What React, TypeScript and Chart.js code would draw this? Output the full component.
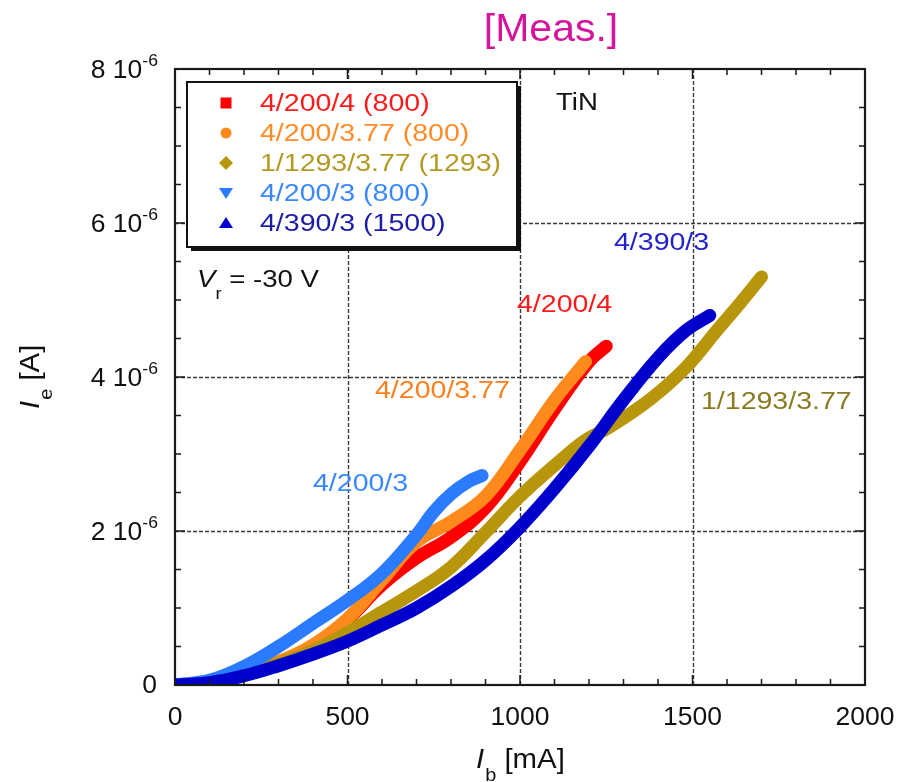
import { useEffect, useRef } from "react";
import { Chart, registerables } from "chart.js";

Chart.register(...registerables);

// ---------- data (Ib in mA, Ie in A) ----------
const seriesLabels = [
  "4/200/4 (800)",
  "4/200/3.77 (800)",
  "1/1293/3.77 (1293)",
  "4/200/3 (800)",
  "4/390/3 (1500)",
];
const curveNames = ["4/200/4", "4/200/3.77", "1/1293/3.77", "4/200/3", "4/390/3"];

const redX = [0, 100, 200, 300, 400, 500, 600, 700, 800, 900, 1000, 1100, 1200, 1250];
const redY = [0, 0.04e-6, 0.15e-6, 0.3e-6, 0.5e-6, 0.85e-6, 1.3e-6, 1.65e-6, 1.92e-6, 2.3e-6, 2.9e-6, 3.58e-6, 4.2e-6, 4.4e-6];

const orangeX = [0, 100, 200, 300, 400, 500, 600, 700, 800, 900, 1000, 1100, 1190];
const orangeY = [0, 0.04e-6, 0.15e-6, 0.3e-6, 0.52e-6, 0.86e-6, 1.36e-6, 1.86e-6, 2.12e-6, 2.45e-6, 3.05e-6, 3.7e-6, 4.2e-6];

const oliveX = [0, 100, 200, 300, 400, 500, 600, 700, 800, 900, 1000, 1100, 1190, 1260, 1380, 1480, 1570, 1640, 1700];
const oliveY = [0, 0.04e-6, 0.14e-6, 0.28e-6, 0.45e-6, 0.68e-6, 0.95e-6, 1.22e-6, 1.53e-6, 1.98e-6, 2.45e-6, 2.85e-6, 3.18e-6, 3.35e-6, 3.72e-6, 4.12e-6, 4.6e-6, 4.97e-6, 5.3e-6];

const lightBlueX = [0, 100, 200, 300, 400, 500, 600, 700, 750, 800, 850, 890];
const lightBlueY = [0, 0.06e-6, 0.24e-6, 0.5e-6, 0.8e-6, 1.1e-6, 1.45e-6, 1.95e-6, 2.25e-6, 2.48e-6, 2.64e-6, 2.72e-6];

const blueX = [0, 100, 200, 300, 400, 500, 600, 700, 800, 900, 1000, 1100, 1200, 1300, 1400, 1480, 1550];
const blueY = [0, 0.03e-6, 0.12e-6, 0.25e-6, 0.4e-6, 0.57e-6, 0.78e-6, 1.0e-6, 1.28e-6, 1.62e-6, 2.05e-6, 2.55e-6, 3.1e-6, 3.7e-6, 4.25e-6, 4.6e-6, 4.8e-6];

const xTicks = [0, 500, 1000, 1500, 2000];
const yTicks = [0, 2e-6, 4e-6, 6e-6, 8e-6];
const xMinorStep = 100;
const yMinorStep = 0.5e-6;
const yExponent = -6;

// ---------- styles ----------
const FONT = "'Liberation Sans', Arial, Helvetica, sans-serif";
const lineColors = ["#ff0000", "#ff8a1c", "#b8960c", "#2b7bff", "#0000cc"];
const legendTextColors = ["#ff1a1a", "#ff8c28", "#b39a24", "#3a88ff", "#1c1ca8"];
const markerShapes = ["square", "circle", "diamond", "triDown", "triUp"];

function txt(
  ctx: CanvasRenderingContext2D,
  s: string,
  x: number,
  y: number,
  font: string,
  color: string,
  align: "left" | "center" | "right" = "left",
  sx = 1,
  baseline: CanvasTextBaseline = "middle"
) {
  ctx.save();
  ctx.font = font;
  ctx.fillStyle = color;
  ctx.textBaseline = baseline;
  ctx.textAlign = "left";
  const w = ctx.measureText(s).width * sx;
  let x0 = x;
  if (align === "center") x0 = x - w / 2;
  else if (align === "right") x0 = x - w;
  ctx.translate(x0, y);
  ctx.scale(sx, 1);
  ctx.fillText(s, 0, 0);
  ctx.restore();
  return w;
}

function marker(ctx: CanvasRenderingContext2D, shape: string, x: number, y: number, color: string) {
  ctx.save();
  ctx.fillStyle = color;
  ctx.beginPath();
  if (shape === "square") ctx.rect(x - 5.5, y - 5.5, 11, 11);
  else if (shape === "circle") ctx.arc(x, y, 5.5, 0, Math.PI * 2);
  else if (shape === "diamond") {
    ctx.moveTo(x, y - 7);
    ctx.lineTo(x + 7, y);
    ctx.lineTo(x, y + 7);
    ctx.lineTo(x - 7, y);
  } else if (shape === "triDown") {
    ctx.moveTo(x - 7, y - 5);
    ctx.lineTo(x + 7, y - 5);
    ctx.lineTo(x, y + 6);
  } else {
    ctx.moveTo(x - 7, y + 5);
    ctx.lineTo(x + 7, y + 5);
    ctx.lineTo(x, y - 6);
  }
  ctx.closePath();
  ctx.fill();
  ctx.restore();
}

const gridPlugin = {
  id: "gridPlugin",
  beforeDatasetsDraw(chart: any) {
    const ctx: CanvasRenderingContext2D = chart.ctx;
    const { left, right, top, bottom } = chart.chartArea;
    const xs = chart.scales.x;
    const ys = chart.scales.y;
    ctx.save();
    ctx.strokeStyle = "#3a3a3a";
    ctx.lineWidth = 1.4;
    ctx.setLineDash([4, 2]);
    xTicks.slice(1, -1).forEach((v) => {
      const px = Math.round(xs.getPixelForValue(v)) + 0.5;
      ctx.beginPath();
      ctx.moveTo(px, top);
      ctx.lineTo(px, bottom);
      ctx.stroke();
    });
    yTicks.slice(1, -1).forEach((v) => {
      const py = Math.round(ys.getPixelForValue(v)) + 0.5;
      ctx.beginPath();
      ctx.moveTo(left, py);
      ctx.lineTo(right, py);
      ctx.stroke();
    });
    ctx.restore();
  },
  afterDatasetsDraw(chart: any) {
    const ctx: CanvasRenderingContext2D = chart.ctx;
    const { left, right, top, bottom } = chart.chartArea;
    const xs = chart.scales.x;
    const ys = chart.scales.y;
    ctx.save();
    ctx.strokeStyle = "#1a1a1a";
    ctx.lineWidth = 1.5;
    const xMax = xTicks[xTicks.length - 1];
    for (let v = xTicks[0]; v <= xMax + 1e-9; v += xMinorStep) {
      const major = xTicks.some((t) => Math.abs(t - v) < 1e-9);
      const L = major ? 10 : 6;
      const px = xs.getPixelForValue(v);
      ctx.beginPath();
      ctx.moveTo(px, bottom);
      ctx.lineTo(px, bottom - L);
      ctx.moveTo(px, top);
      ctx.lineTo(px, top + L);
      ctx.stroke();
    }
    const yMax = yTicks[yTicks.length - 1];
    for (let i = 0; i * yMinorStep <= yMax + 1e-15; i++) {
      const v = i * yMinorStep;
      const major = yTicks.some((t) => Math.abs(t - v) < 1e-12);
      const L = major ? 10 : 6;
      const py = ys.getPixelForValue(v);
      ctx.beginPath();
      ctx.moveTo(left, py);
      ctx.lineTo(left + L, py);
      ctx.moveTo(right, py);
      ctx.lineTo(right - L, py);
      ctx.stroke();
    }
    ctx.lineWidth = 2.2;
    ctx.strokeStyle = "#1a1a1a";
    ctx.strokeRect(left, top, right - left, bottom - top);
    ctx.restore();

    // x tick labels
    xTicks.forEach((v) => {
      txt(ctx, String(v), xs.getPixelForValue(v), 718, `25px ${FONT}`, "#111", "center", 1.06);
    });
    // y tick labels with exponent
    yTicks.forEach((v) => {
      const py = ys.getPixelForValue(v);
      const m = Math.round(v / Math.pow(10, yExponent));
      if (m === 0) {
        txt(ctx, "0", 157, py + 1, `25px ${FONT}`, "#111", "right", 1.06);
      } else {
        const ws = txt(ctx, String(yExponent), 158, py - 7, `16px ${FONT}`, "#111", "right", 1.1);
        txt(ctx, `${m} 10`, 158 - ws, py + 2, `25px ${FONT}`, "#111", "right", 1.06);
      }
    });

    // x title: I_b [mA]
    {
      const w1 = txt(ctx, "I", 476, 768, `italic 28px ${FONT}`, "#111", "left", 1.05, "alphabetic");
      const w2 = txt(ctx, "b", 476 + w1 + 1, 781, `19px ${FONT}`, "#111", "left", 1.05, "alphabetic");
      txt(ctx, " [mA]", 476 + w1 + w2 + 1, 768, `28px ${FONT}`, "#111", "left", 1.05, "alphabetic");
    }
    // y title: I_e [A] rotated
    {
      ctx.save();
      ctx.translate(39, 409);
      ctx.rotate(-Math.PI / 2);
      const w1 = txt(ctx, "I", 0, 0, `italic 28px ${FONT}`, "#111", "left", 1.05, "alphabetic");
      const w2 = txt(ctx, "e", w1 + 1, 13, `19px ${FONT}`, "#111", "left", 1.05, "alphabetic");
      txt(ctx, " [A]", w1 + w2 + 1, 0, `28px ${FONT}`, "#111", "left", 1.05, "alphabetic");
      ctx.restore();
    }

    // legend box
    const bx = 187, by = 82, bw = 330, bh = 165;
    ctx.save();
    ctx.fillStyle = "#111";
    ctx.fillRect(bx + 4, by + 4, bw, bh);
    ctx.fillStyle = "#fff";
    ctx.fillRect(bx, by, bw, bh);
    ctx.lineWidth = 2;
    ctx.strokeStyle = "#111";
    ctx.strokeRect(bx, by, bw, bh);
    ctx.restore();
    seriesLabels.forEach((lab, i) => {
      const y = 104 + i * 30;
      marker(ctx, markerShapes[i], 226, y - 1, lineColors[i]);
      txt(ctx, lab, 260, y + 1, `23px ${FONT}`, legendTextColors[i], "left", 1.24);
    });

    // annotations
    const AF = `23px ${FONT}`;
    txt(ctx, "TiN", 556, 104, AF, "#111", "left", 1.2);
    {
      const w1 = txt(ctx, "V", 197, 287, `italic 24px ${FONT}`, "#111", "left", 1.15, "alphabetic");
      const w2 = txt(ctx, "r", 197 + w1, 299, `16px ${FONT}`, "#111", "left", 1.15, "alphabetic");
      txt(ctx, " = -30 V", 197 + w1 + w2, 287, `24px ${FONT}`, "#111", "left", 1.15, "alphabetic");
    }
    txt(ctx, curveNames[0], 517, 306, AF, "#ff1a1a", "left", 1.24);
    txt(ctx, curveNames[1], 375, 392, AF, "#ff7f1e", "left", 1.24);
    txt(ctx, curveNames[2], 701, 403, AF, "#8a7a22", "left", 1.24);
    txt(ctx, curveNames[3], 313, 485, AF, "#3a88ff", "left", 1.24);
    txt(ctx, curveNames[4], 614, 244, AF, "#2222cc", "left", 1.24);

    // title
    txt(ctx, "[Meas.]", 551, 41, `39px ${FONT}`, "#d4149c", "center", 1.05, "alphabetic");
  },
};

function pts(xs: number[], ys: number[]) {
  return xs.map((x, i) => ({ x, y: ys[i] }));
}

export default function App() {
  const ref = useRef<HTMLCanvasElement | null>(null);
  useEffect(() => {
    document.body.style.margin = "0";
    const canvas = ref.current;
    if (!canvas) return;
    const seriesData = [
      pts(redX, redY),
      pts(orangeX, orangeY),
      pts(oliveX, oliveY),
      pts(lightBlueX, lightBlueY),
      pts(blueX, blueY),
    ];
    const orders = [5, 4, 3, 2, 1];
    const chart = new Chart(canvas, {
      type: "line",
      data: {
        datasets: seriesData.map((d, i) => ({
          label: seriesLabels[i],
          data: d,
          borderColor: lineColors[i],
          backgroundColor: lineColors[i],
          borderWidth: 13,
          pointRadius: 0,
          borderCapStyle: "round" as const,
          borderJoinStyle: "round" as const,
          tension: 0.4,
          fill: false,
          order: orders[i],
        })),
      },
      options: {
        responsive: false,
        animation: false,
        devicePixelRatio: 1,
        layout: { padding: { left: 175, right: 32, top: 69, bottom: 97 } },
        plugins: {
          legend: { display: false },
          tooltip: { enabled: false },
          title: { display: false },
        },
        scales: {
          x: { type: "linear", min: 0, max: 2000, display: false },
          y: { type: "linear", min: 0, max: 8e-6, display: false },
        },
      },
      plugins: [gridPlugin],
    });
    return () => chart.destroy();
  }, []);
  return (
    <div style={{ width: 897, height: 782, background: "#fff" }}>
      <canvas ref={ref} width={897} height={782} style={{ display: "block" }} />
    </div>
  );
}
